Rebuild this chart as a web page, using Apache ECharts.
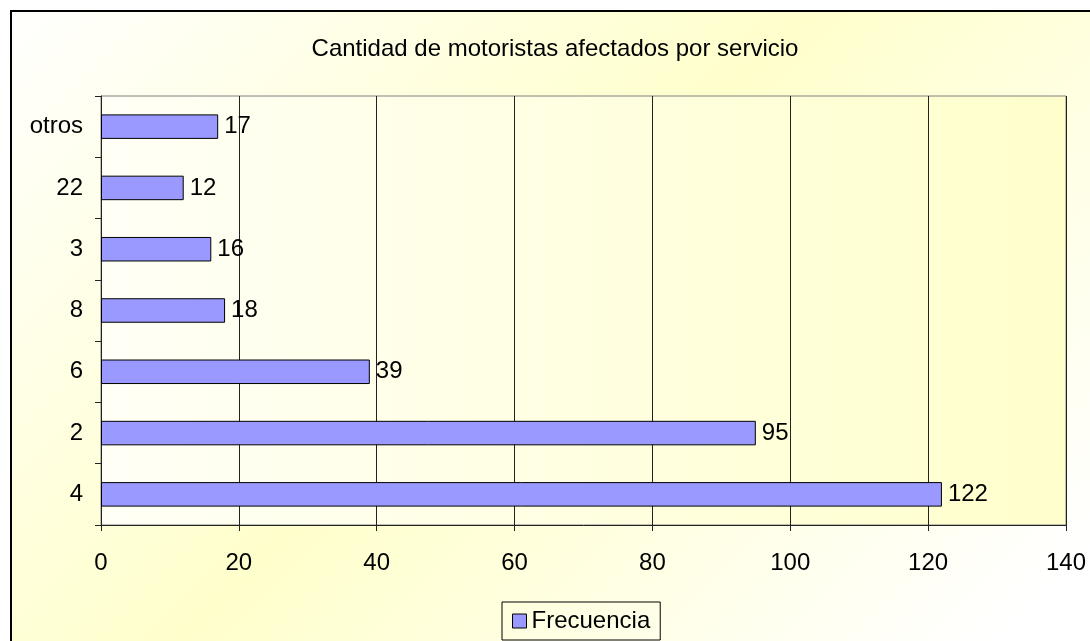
<!DOCTYPE html>
<html>
<head>
<meta charset="utf-8">
<script src="https://cdn.jsdelivr.net/npm/echarts@6/dist/echarts.min.js"></script>
<style>
html,body{margin:0;padding:0;background:#fff;}
#chart{width:1090px;height:641px;}
</style>
</head>
<body>
<div id="chart"></div>
<script>
const titleText = 'Cantidad de motoristas afectados por servicio';
const categories = ['4', '2', '6', '8', '3', '22', 'otros'];
const frecuencia = [122, 95, 39, 18, 16, 12, 17];
const seriesName = 'Frecuencia';
const xMin = 0, xMax = 140, xStep = 20;

const FONT = '"Liberation Sans", Arial, sans-serif';
const chart = echarts.init(document.getElementById('chart'), null, {renderer: 'canvas'});
chart.setOption({
  backgroundColor: '#ffffff',
  animation: false,
  graphic: [{
    type: 'rect',
    z: -100,
    silent: true,
    shape: {x: 11, y: 11, width: 1100, height: 660},
    style: {
      fill: {type: 'linear', global: true, x: 0, y: 0, x2: 820, y2: 820, colorStops: [
        {offset: 0, color: '#FFFFFF'},
        {offset: 0.5, color: '#FFFFCC'},
        {offset: 1, color: '#FFFFFF'}
      ]},
      stroke: '#000',
      lineWidth: 2
    }
  }],
  title: {
    text: titleText,
    left: 555,
    top: 37,
    padding: 0,
    textAlign: 'center',
    textStyle: {fontFamily: FONT, fontSize: 24, fontWeight: 'normal', color: '#000'}
  },
  legend: {
    data: [seriesName],
    left: 502,
    top: 602,
    padding: [7, 10],
    borderColor: '#000',
    borderWidth: 1,
    itemWidth: 14,
    itemHeight: 14,
    icon: 'rect',
    itemStyle: {color: '#9999FF', borderColor: '#000', borderWidth: 1},
    textStyle: {fontFamily: FONT, fontSize: 24, color: '#000'}
  },
  grid: {
    left: 101, right: 24, top: 96, bottom: 116,
    show: true,
    borderColor: '#808080',
    borderWidth: 1,
    backgroundColor: {type: 'linear', x: 0, y: 0, x2: 1, y2: 0, colorStops: [
      {offset: 0, color: '#FFFFF6'},
      {offset: 1, color: '#FFFFCC'}
    ]}
  },
  xAxis: {
    type: 'value',
    min: xMin, max: xMax, interval: xStep,
    axisLine: {show: true, lineStyle: {color: '#222', width: 1}},
    axisTick: {show: true, length: 6, lineStyle: {color: '#222'}},
    axisLabel: {margin: 26, fontFamily: FONT, fontSize: 24, color: '#000'},
    splitLine: {show: true, lineStyle: {color: '#222', width: 1}}
  },
  yAxis: {
    type: 'category',
    data: categories,
    axisLine: {show: true, lineStyle: {color: '#222', width: 1}},
    axisTick: {show: true, length: 6, lineStyle: {color: '#222'}},
    axisLabel: {margin: 18, fontFamily: FONT, fontSize: 24, color: '#000'},
    splitLine: {show: false}
  },
  series: [{
    name: seriesName,
    type: 'bar',
    data: frecuencia,
    barCategoryGap: '60%',
    itemStyle: {color: '#9999FF', borderColor: '#000', borderWidth: 1},
    label: {
      show: true, position: 'right', distance: 6,
      fontFamily: FONT, fontSize: 24, color: '#000'
    }
  }]
});
</script>
</body>
</html>
